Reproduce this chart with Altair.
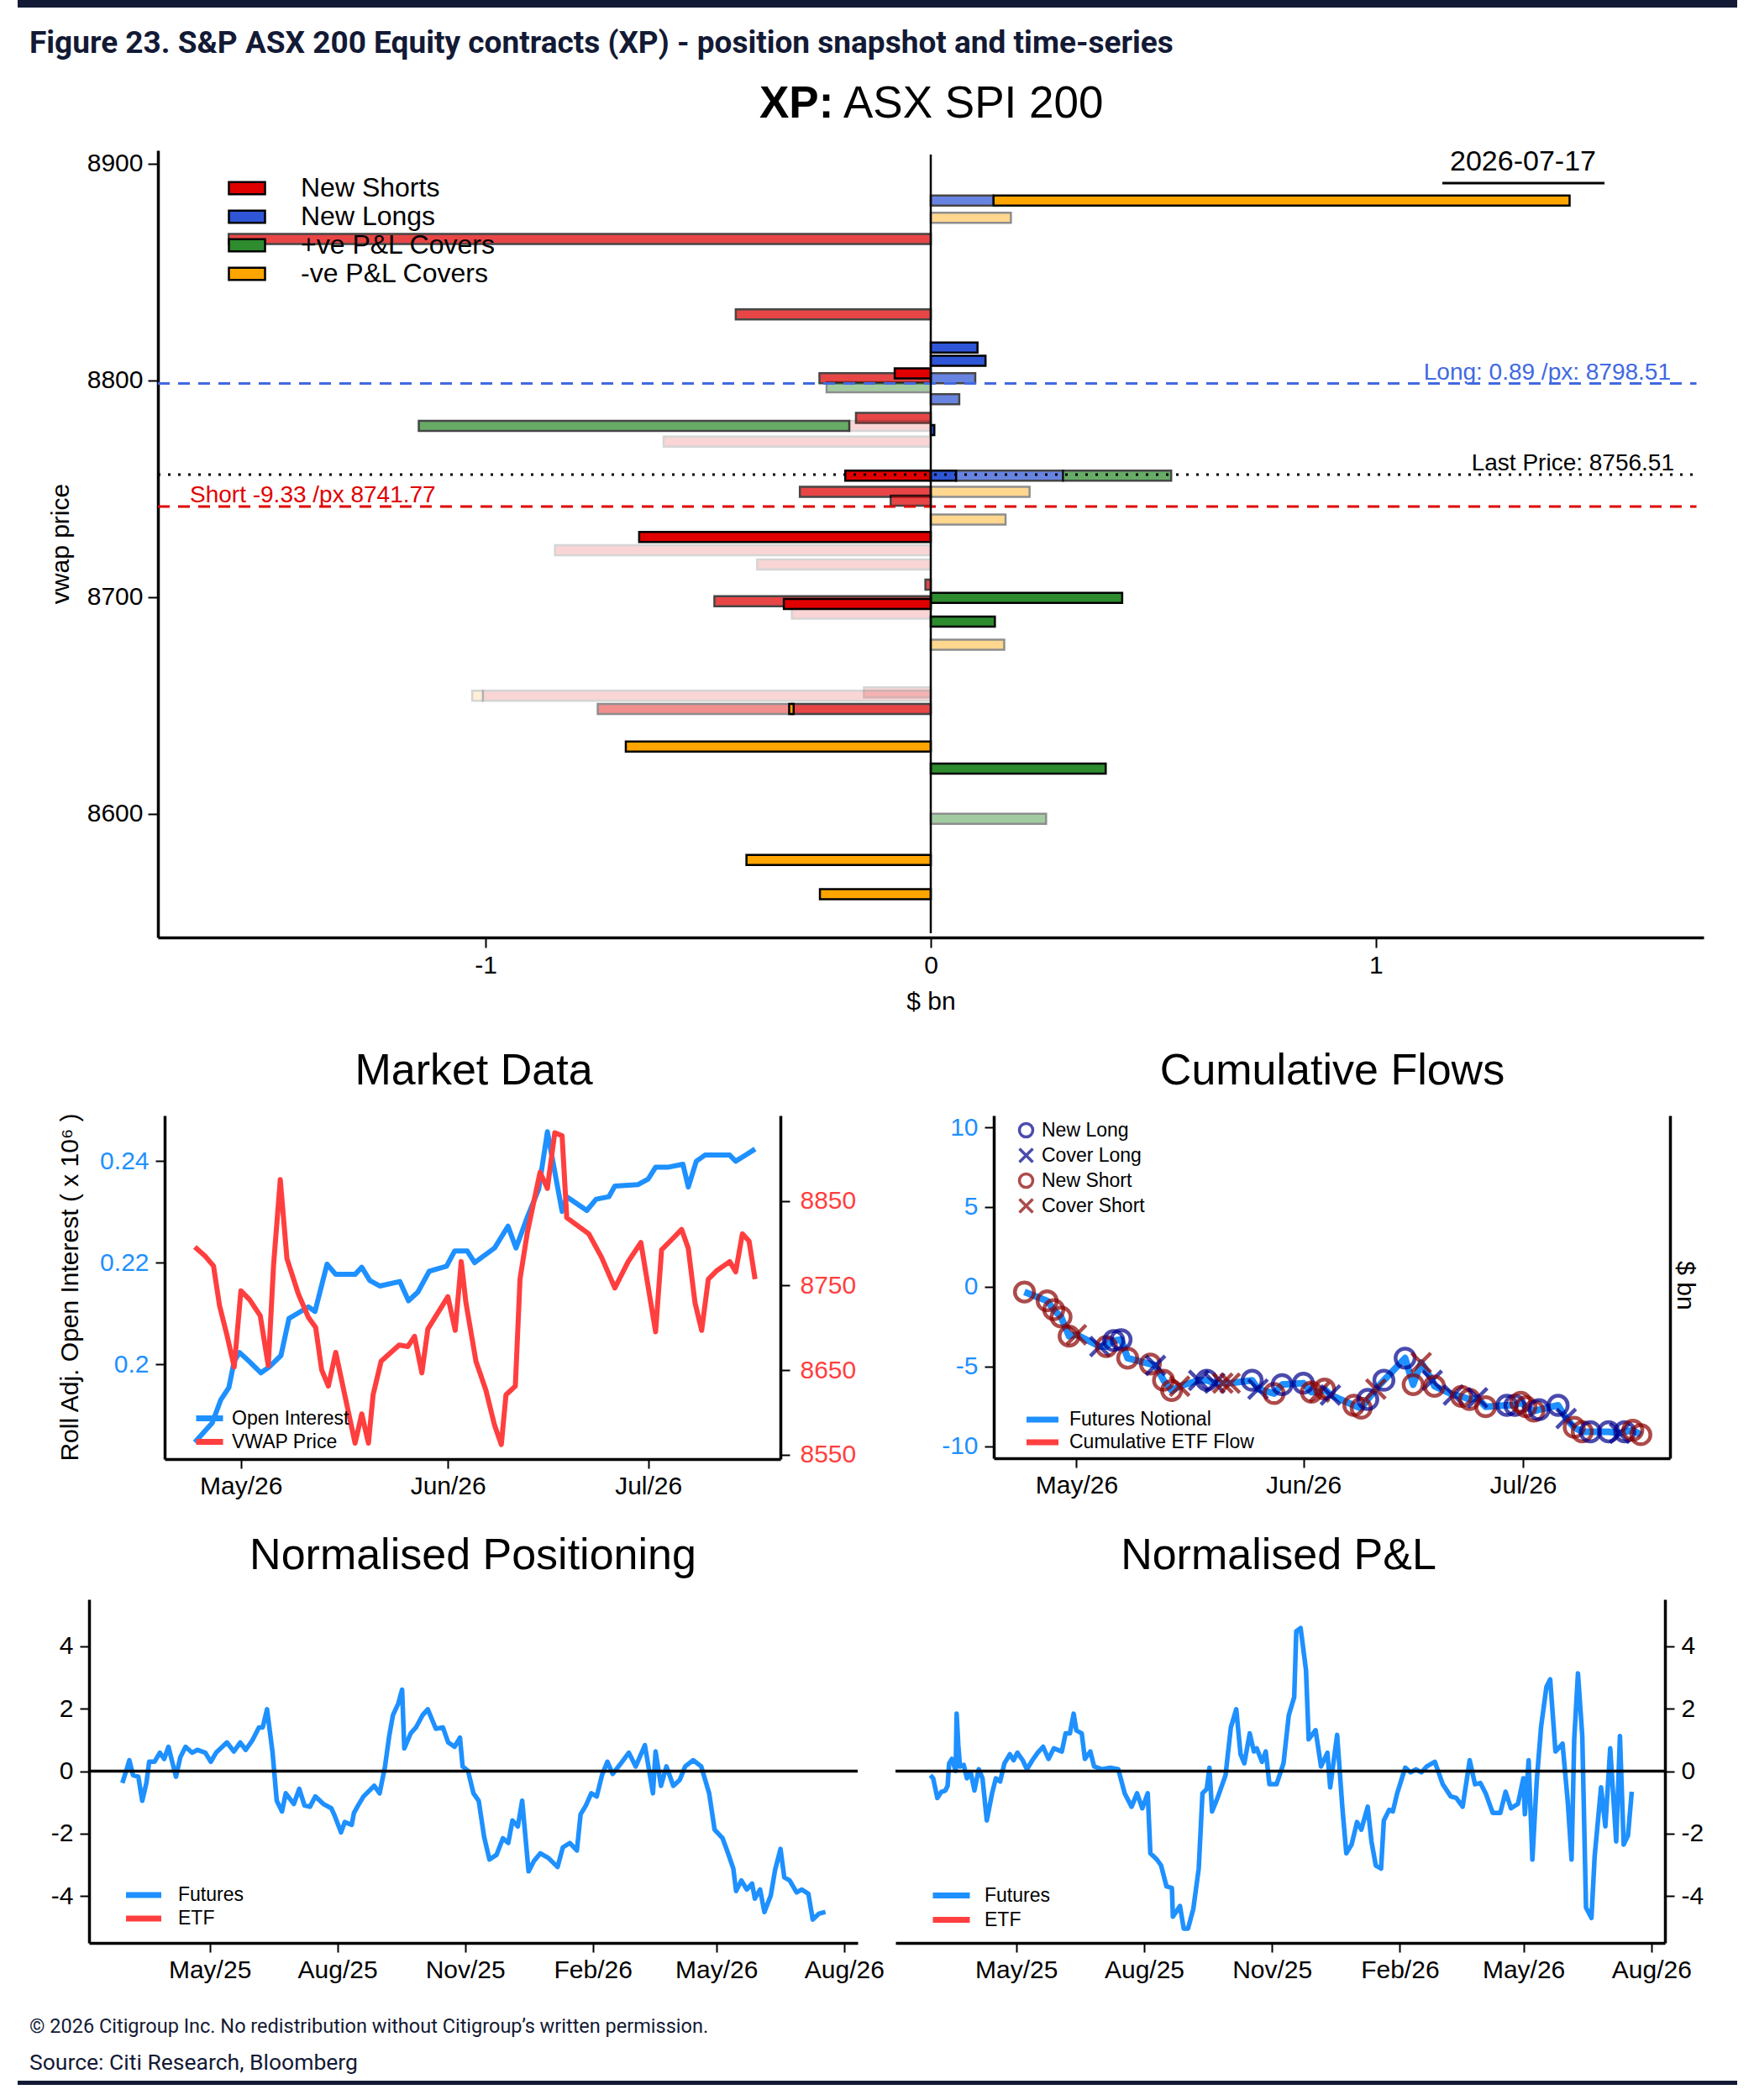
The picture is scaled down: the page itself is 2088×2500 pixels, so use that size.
import altair as alt
import pandas as pd

W, H = 2088, 2500
FONT = "Liberation Sans"
HEAD_FONT = "Roboto"
NAVY = "#131a35"
SKY = "#1e90ff"
SCARLET = "#ff3f3f"
LONG_BLUE = "#4169e1"
SHORT_RED = "#e00000"

# ---------------- header / footer
fig_title = "Figure 23. S&P ASX 200 Equity contracts (XP) - position snapshot and time-series"
copyright_note = "\u00a9 2026 Citigroup Inc. No redistribution without Citigroup\u2019s written permission."
source_note = "Source: Citi Research, Bloomberg"

# ---------------- snapshot panel
snap_date = "2026-07-17"
NS, NL, PC, NC = "New Shorts", "New Longs", "+ve P&L Covers", "-ve P&L Covers"
bar_types = [NS, NL, PC, NC]
bar_colors = ["#e00000", "#2f56d6", "#2e8b2e", "#ffa500"]
tones = ["solid", "medium", "light", "faded"]

bar_price = [8883.0, 8883.0, 8875.0, 8865.2, 8830.4, 8815.1, 8809.0, 8801.0, 8803.2, 8801.0,
             8796.8, 8791.3, 8782.7, 8779.0, 8779.0, 8777.0, 8771.7, 8756.0, 8756.0, 8756.0,
             8756.0, 8748.5, 8748.5, 8744.5, 8735.7, 8727.7, 8721.6, 8715.0, 8705.7, 8699.6,
             8698.0, 8696.8, 8692.3, 8688.6, 8678.0, 8656.0, 8654.4, 8654.4, 8648.3, 8648.3,
             8648.3, 8631.0, 8620.8, 8597.6, 8578.6, 8562.8]
bar_start = [0.0, 0.141, 0.0, -1.577, -0.438, 0.0, 0.0, -0.250, -0.081, 0.0,
             -0.234, 0.0, -0.168, -0.183, -1.150, 0.0, -0.600, -0.192, 0.0, 0.057,
             0.297, -0.294, 0.0, -0.090, 0.0, -0.655, -0.844, -0.390, -0.012, 0.0,
             -0.486, -0.330, -0.312, 0.0, 0.0, -0.150, -1.006, -1.030, -0.748, -0.312,
             -0.318, -0.685, 0.0, 0.0, -0.414, -0.249]
bar_end = [0.141, 1.435, 0.180, 0.0, 0.0, 0.105, 0.123, 0.0, 0.0, 0.100,
           0.0, 0.064, 0.0, 0.0, -0.183, 0.008, 0.0, 0.0, 0.057, 0.297,
           0.540, 0.0, 0.222, 0.0, 0.168, 0.0, 0.0, 0.0, 0.0, 0.430,
           0.0, 0.0, 0.0, 0.144, 0.165, 0.0, 0.0, -1.006, -0.312, 0.0,
           -0.308, 0.0, 0.393, 0.259, 0.0, 0.0]
bar_type = [NL, NC, NC, NS, NS, NL, NL, NS, NS, NL,
            PC, NL, NS, NS, PC, NL, NS, NS, NL, NL,
            PC, NS, NC, NS, NC, NS, NS, NS, NS, PC,
            NS, NS, NS, PC, NC, NS, NS, NC, NS, NS,
            NC, NC, PC, PC, NC, NC]
bar_tone = ["medium", "solid", "light", "medium", "medium", "solid", "solid", "medium", "solid", "medium",
            "light", "medium", "medium", "faded", "medium", "solid", "faded", "solid", "solid", "medium",
            "medium", "medium", "light", "medium", "light", "solid", "faded", "faded", "medium", "solid",
            "medium", "solid", "faded", "solid", "light", "faded", "faded", "faded", "light", "medium",
            "solid", "solid", "solid", "light", "solid", "solid"]

long_amt, long_px = 0.89, 8798.51
short_amt, short_px = -9.33, 8741.77
last_px = 8756.51

# ---------------- market data panel (days after 2026-05-01)
oi_day = [-6.9, -4.3, -3.0, -1.8, -1.0, -0.2, 1.2, 3.0, 4.2, 6.0,
          7.2, 8.6, 10.1, 11.1, 12.9, 14.2, 17.1, 18.1, 19.3, 20.8,
          23.8, 25.1, 26.5, 28.2, 30.8, 32.0, 33.9, 35.0, 38.0, 40.0,
          41.2, 42.9, 44.6, 45.9, 46.8, 48.1, 48.8, 51.8, 53.2, 55.1,
          56.0, 59.5, 61.0, 62.1, 63.9, 66.2, 67.0, 68.2, 69.5, 73.2,
          74.1, 75.7, 77.0]
oi_val = [0.1846, 0.1884, 0.1930, 0.1954, 0.2006, 0.2023, 0.2006, 0.1983, 0.1994, 0.2017,
          0.2090, 0.2101, 0.2113, 0.2104, 0.2197, 0.2177, 0.2177, 0.2191, 0.2165, 0.2154,
          0.2163, 0.2125, 0.2142, 0.2183, 0.2193, 0.2223, 0.2223, 0.2200, 0.2229, 0.2272,
          0.2229, 0.2290, 0.2345, 0.2458, 0.2394, 0.2301, 0.2330, 0.2303, 0.2325, 0.2330,
          0.2351, 0.2354, 0.2365, 0.2388, 0.2388, 0.2394, 0.2349, 0.2400, 0.2412, 0.2412,
          0.2400, 0.2413, 0.2424]
px_day = [-6.9, -5.4, -4.1, -3.2, -2.1, -1.0, 0.0, 1.3, 2.9, 4.1,
          4.9, 5.9, 6.9, 8.6, 10.1, 11.2, 12.1, 13.1, 14.2, 15.6,
          17.1, 18.1, 19.1, 19.8, 21.0, 23.7, 25.0, 26.0, 27.1, 28.0,
          31.0, 32.1, 33.0, 33.7, 35.2, 36.7, 38.0, 39.0, 39.7, 41.1,
          41.8, 42.9, 44.8, 45.9, 47.0, 48.1, 48.8, 50.3, 52.1, 54.0,
          56.0, 58.0, 59.9, 62.1, 63.0, 64.3, 66.0, 67.0, 68.0, 69.0,
          70.0, 71.3, 73.2, 74.1, 75.1, 76.1, 77.0]
px_val = [8795.7, 8785.3, 8773.2, 8726.5, 8691.9, 8653.8, 8743.8, 8733.4, 8714.4, 8655.5,
          8774.9, 8875.3, 8781.8, 8740.3, 8712.6, 8700.5, 8650.3, 8631.3, 8671.1, 8619.2,
          8563.8, 8598.4, 8563.8, 8620.9, 8660.7, 8679.8, 8678.0, 8690.1, 8646.9, 8698.8,
          8736.9, 8697.1, 8778.4, 8729.9, 8660.7, 8626.1, 8584.6, 8562.1, 8620.9, 8631.3,
          8757.6, 8813.0, 8883.9, 8864.9, 8930.6, 8927.2, 8830.3, 8821.6, 8811.2, 8783.6,
          8747.2, 8778.4, 8800.9, 8695.3, 8792.2, 8802.6, 8816.4, 8793.9, 8729.9, 8697.1,
          8757.6, 8767.9, 8778.4, 8766.3, 8811.2, 8802.6, 8757.6]

# ---------------- cumulative flows panel (days after 2026-05-01)
NLo, CLo, NSh, CSh = "New Long", "Cover Long", "New Short", "Cover Short"
flow_events = [NLo, CLo, NSh, CSh]
cf_day = [-7.1, -4.0, -3.1, -2.1, -1.0, 0.0, 3.2, 4.1, 5.1, 6.1,
          7.0, 10.1, 10.8, 11.9, 13.0, 14.1, 16.7, 17.8, 18.9, 20.0,
          21.0, 24.0, 24.8, 27.0, 28.1, 31.0, 32.1, 33.2, 33.9, 34.7,
          37.9, 38.9, 39.8, 40.9, 42.0, 44.9, 46.0, 47.1, 48.6, 48.9,
          51.5, 52.6, 53.7, 54.8, 55.9, 58.8, 59.9, 60.7, 61.4, 62.5,
          63.2, 65.8, 66.9, 68.0, 69.1, 70.2, 72.7, 74.2, 74.9, 76.0, 77.1]
cf_val = [-0.33, -0.89, -1.44, -1.90, -3.10, -3.01, -3.75, -3.75, -3.38, -3.32,
          -4.48, -4.85, -4.94, -5.87, -6.51, -6.24, -5.87, -5.87, -6.05, -6.05,
          -6.05, -5.87, -6.42, -6.70, -6.14, -6.05, -6.61, -6.61, -6.42, -6.79,
          -7.44, -7.62, -7.07, -6.42, -5.87, -4.48, -6.14, -4.76, -5.87, -6.24,
          -6.79, -6.88, -7.07, -6.97, -7.53, -7.44, -7.44, -7.25, -7.53, -7.80,
          -7.71, -7.44, -8.27, -8.82, -9.10, -9.10, -9.10, -9.19, -9.10, -9.00, -9.28]
cf_event = [NSh, NSh, NSh, NSh, NSh, CSh, CLo, NSh, NLo, NLo,
            NSh, NSh, CLo, NSh, NSh, CSh, CLo, NLo, CLo, CSh,
            CSh, NLo, CLo, NSh, NLo, NLo, NSh, CSh, NSh, CLo,
            NSh, NSh, NLo, CSh, NLo, NLo, NSh, CSh, CLo, NSh,
            CLo, NSh, NSh, CLo, NSh, NLo, NLo, NSh, NSh, NSh,
            NLo, NLo, CLo, NSh, NSh, NLo, NLo, CLo, NLo, NSh, NSh]

# ---------------- normalised positioning (days after 2025-05-01)
pos_day = [-62.9, -59.8, -57.9, -55.2, -51.4, -48.6, -45.6, -43.6, -39.8, -35.9,
           -32.8, -29.7, -27.0, -24.3, -21.2, -17.4, -12.7, -8.9, -3.1, 0.8,
           4.6, 12.4, 17.4, 22.0, 25.9, 30.5, 35.5, 38.2, 41.3, 45.2,
           48.3, 52.1, 54.8, 60.6, 64.5, 68.3, 72.2, 76.1, 81.9, 87.6,
           89.6, 94.6, 97.3, 102.3, 103.9, 106.9, 110.8, 118.5, 122.4, 126.3,
           129.3, 132.0, 135.9, 138.6, 140.2, 144.8, 148.6, 153.3, 157.1, 162.9,
           168.0, 171.8, 176.4, 180.3, 182.2, 186.1, 190.0, 193.8, 197.7, 201.5,
           206.6, 211.2, 215.1, 218.1, 222.0, 225.1, 229.7, 233.6, 238.2, 244.0,
           250.6, 254.4, 259.5, 264.5, 267.2, 271.0, 274.9, 278.8, 282.6, 286.5,
           290.3, 295.4, 301.9, 306.9, 313.5, 319.3, 321.2, 325.1, 329.0, 334.0,
           338.6, 342.5, 348.3, 354.1, 359.8, 363.7, 369.5, 373.4, 377.2, 379.2,
           383.0, 386.9, 390.7, 392.7, 396.5, 399.6, 404.2, 407.3, 411.2, 413.9,
           417.8, 422.8, 426.6, 431.3, 434.4, 439.0, 443.6]
pos_val = [-0.38, 0.06, 0.35, -0.13, -0.18, -0.95, -0.38, 0.30, 0.30, 0.59,
           0.39, 0.78, 0.30, -0.18, 0.44, 0.78, 0.59, 0.68, 0.59, 0.30,
           0.59, 0.92, 0.63, 0.92, 0.68, 0.97, 1.40, 1.40, 1.98, 0.63,
           -0.95, -1.29, -0.71, -1.05, -0.57, -1.10, -1.14, -0.81, -1.05, -1.19,
           -1.38, -1.96, -1.63, -1.72, -1.34, -1.10, -0.81, -0.47, -0.71, 0.15,
           1.12, 1.79, 2.17, 2.61, 0.73, 1.21, 1.40, 1.79, 1.98, 1.36,
           1.40, 0.92, 0.78, 1.07, 0.15, 0.01, -0.71, -0.95, -2.11, -2.83,
           -2.68, -2.15, -2.30, -1.58, -1.77, -0.95, -3.21, -2.88, -2.63, -2.78,
           -3.07, -2.44, -2.30, -2.54, -1.38, -1.10, -0.71, -0.81, -0.13, 0.30,
           -0.09, 0.20, 0.59, 0.15, 0.83, -0.71, 0.63, -0.47, 0.15, -0.47,
           -0.28, 0.15, 0.35, 0.15, -0.71, -1.87, -2.15, -2.63, -3.12, -3.84,
           -3.50, -3.79, -3.60, -4.08, -3.79, -4.51, -3.98, -3.16, -2.49, -3.40,
           -3.50, -3.88, -3.79, -3.93, -4.75, -4.56, -4.51]

# ---------------- normalised P&L (days after 2025-05-01)
pnl_day = [-61.8, -59.8, -56.8, -54.1, -51.0, -49.4, -48.3, -46.3, -43.6, -42.9,
           -41.7, -40.5, -37.8, -35.5, -32.8, -30.1, -27.0, -24.3, -21.2, -17.4,
           -14.7, -11.6, -8.5, -4.6, -1.9, 0.8, 4.6, 7.7, 11.6, 15.4,
           19.3, 23.2, 27.0, 32.8, 35.5, 38.6, 41.3, 43.2, 47.1, 49.4,
           53.3, 56.0, 61.8, 67.6, 73.4, 78.0, 83.0, 86.9, 90.7, 94.6,
           96.5, 101.2, 104.2, 108.1, 112.0, 112.7, 117.8, 120.5, 123.6, 127.4,
           131.3, 134.0, 137.1, 139.0, 140.9, 144.8, 150.6, 154.4, 158.3, 161.4,
           164.1, 168.0, 171.0, 173.0, 176.8, 179.5, 182.2, 187.3, 192.3, 196.1,
           200.0, 201.5, 204.6, 208.5, 210.4, 215.4, 219.3, 223.9, 225.9, 230.9,
           234.7, 237.5, 241.3, 245.2, 248.3, 252.9, 255.6, 258.7, 262.5, 264.5,
           268.3, 271.0, 274.1, 279.9, 283.8, 287.6, 291.5, 295.4, 301.2, 306.9,
           312.7, 316.6, 321.2, 326.3, 330.1, 334.0, 337.8, 342.9, 348.3, 352.1,
           356.0, 361.0, 364.9, 366.0, 368.7, 371.4, 374.5, 377.6, 381.5, 384.2,
           388.0, 393.1, 396.9, 399.6, 401.5, 404.2, 407.3, 410.0, 413.9, 416.2,
           420.8, 423.9, 427.4, 431.7, 434.4, 437.1, 440.2, 442.9]
pnl_val = [-0.13, -0.23, -0.86, -0.67, -0.62, -0.47, 0.25, 0.39, 0.01, 1.84,
           0.83, 0.15, 0.20, -0.23, -0.04, -0.62, 0.06, -0.23, -1.58, -0.71,
           -0.23, -0.33, 0.25, 0.54, 0.35, 0.59, 0.35, 0.06, 0.35, 0.59,
           0.78, 0.39, 0.73, 0.63, 1.21, 1.21, 1.84, 1.31, 1.21, 0.39,
           0.63, 0.15, 0.06, 0.11, 0.06, -0.71, -1.14, -0.71, -1.19, -0.71,
           -2.63, -2.83, -3.02, -3.69, -3.74, -4.66, -4.32, -5.04, -5.04, -4.41,
           -3.12, -0.71, -0.57, 0.11, -1.29, -0.86, -0.13, 1.40, 1.98, 0.54,
           0.25, 1.21, 0.63, 0.73, 0.30, 0.63, -0.42, -0.42, 0.25, 1.79,
           2.37, 4.48, 4.58, 3.23, 1.02, 1.31, 0.15, 0.59, -0.52, 1.16,
           -1.19, -2.63, -2.35, -1.63, -1.87, -1.14, -2.25, -3.02, -3.12, -1.58,
           -1.24, -1.29, -0.71, 0.11, -0.04, 0.06, -0.04, 0.15, 0.30, -0.42,
           -0.81, -0.86, -1.14, 0.35, -0.42, -0.38, -0.71, -1.34, -1.34, -0.66,
           -1.19, -1.05, -0.23, -1.38, 0.35, -2.83, -0.33, 1.40, 2.70, 2.94,
           0.63, 0.88, -1.00, -2.83, 1.02, 3.13, 1.12, -4.37, -4.70, -2.73,
           -0.52, -1.77, 0.73, -2.25, 1.12, -2.35, -2.06, -0.66]


# ---------------- helpers
def ax(orient, pos, **kw):
    offset = {"bottom": pos - H, "left": -pos, "right": pos - W}[orient]
    props = dict(orient=orient, offset=offset, grid=False, domainColor="black", domainWidth=3.5,
                 tickColor="black", tickWidth=2, tickSize=11, labelColor="black", labelFont=FONT,
                 labelFontSize=30, labelPadding=6, labelFlush=False, labelOverlap=False,
                 titleFont=FONT, titleFontSize=30, titleFontWeight="normal", titleColor="black")
    props.update(kw)
    return alt.Axis(**props)


MINUS = "datum.value < 0 ? '-' + format(-datum.value, '~g') : format(datum.value, '~g')"


def dt(y, m, d, h=0):
    return alt.DateTime(year=y, month=m, date=d, hours=h)


def to_dates(base, days):
    return pd.Timestamp(base) + pd.to_timedelta(pd.Series(days), unit="D")


ONE = pd.DataFrame({"k": [0]})


def label(text, x, y, size, color="black", weight="normal", align="left", font=FONT):
    return alt.Chart(pd.DataFrame({"t": [text]})).mark_text(
        align=align, baseline="middle", fontSize=size, font=font, fontWeight=weight,
        color=color).encode(text="t:N", x=alt.value(x), y=alt.value(y))


def band(x1, x2, y1, y2, color):
    return alt.Chart(ONE).mark_rect(color=color).encode(
        x=alt.value(x1), x2=alt.value(x2), y=alt.value(y1), y2=alt.value(y2))


def line_legend(x, y, size, offset, rows_pad=-1):
    return alt.Legend(orient="none", legendX=x, legendY=y, title=None, symbolType="M-2,0H2",
                      symbolSize=size, symbolStrokeWidth=7, labelFont=FONT, labelFontSize=23,
                      labelOffset=offset, rowPadding=rows_pad, padding=0, labelLimit=0)


# ---------------- snapshot layers
sx = alt.Scale(domain=[-1.736, 1.736], range=[188, 2028], nice=False, zero=False)
sy = alt.Scale(domain=[8544.8, 8904.2], range=[1116, 179], nice=False, zero=False)
SX_AX = ax("bottom", 1116, values=[-1, 0, 1], labelExpr=MINUS, title="$ bn", titleX=1108, titleY=76,
           titleBaseline="middle", tickSize=12)
SY_AX = ax("left", 188, values=[8600, 8700, 8800, 8900], labelExpr=MINUS, title="vwap price",
           titleX=-116, titleY=647, titleAngle=-90, titleBaseline="middle", tickSize=12)

bars_df = pd.DataFrame({"price": bar_price, "start": bar_start, "end": bar_end,
                        "type": bar_type, "tone": bar_tone})
bars = alt.Chart(bars_df).mark_bar(size=12, stroke="black", strokeWidth=2.5, orient="horizontal").encode(
    x=alt.X("start:Q", scale=sx, axis=SX_AX),
    x2="end:Q",
    y=alt.Y("price:Q", scale=sy, axis=SY_AX),
    color=alt.Color("type:N", scale=alt.Scale(domain=bar_types, range=bar_colors),
                    legend=alt.Legend(orient="none", legendX=278, legendY=208, title=None,
                                      symbolType="M-1.5,-0.5H1.5V0.5H-1.5Z", symbolSize=823,
                                      symbolStrokeColor="black", symbolStrokeWidth=2.5, symbolOpacity=1,
                                      labelFont=FONT, labelFontSize=32, labelOffset=48, rowPadding=2,
                                      padding=0, labelLimit=0)),
    opacity=alt.Opacity("tone:N", scale=alt.Scale(type="point", domain=tones, range=[1.0, 0.16], padding=0),
                        legend=None),
)


def ref_rule(price, color, dash, x_end):
    return alt.Chart(ONE).mark_rule(color=color, strokeWidth=3, strokeDash=dash).encode(
        x=alt.XDatum(-1.736, scale=sx, axis=SX_AX), x2=alt.X2Datum(x_end),
        y=alt.YDatum(price, scale=sy, axis=SY_AX))


def ref_text(text, price, x, color, align):
    return alt.Chart(pd.DataFrame({"t": [text]})).mark_text(
        align=align, baseline="alphabetic", dy=-5, fontSize=28, font=FONT, color=color).encode(
        text="t:N", x=alt.value(x), y=alt.YDatum(price, scale=sy, axis=SY_AX))


zero_rule = alt.Chart(ONE).mark_rule(color="black", strokeWidth=2.5).encode(
    x=alt.XDatum(0, scale=sx, axis=SX_AX),
    y=alt.YDatum(8544.8, scale=sy, axis=SY_AX), y2=alt.Y2Datum(8904.2))

snapshot = alt.layer(
    bars,
    ref_rule(long_px, LONG_BLUE, [14, 10], 1.72),
    ref_rule(short_px, SHORT_RED, [14, 10], 1.72),
    ref_rule(last_px, "black", [3, 9], 1.72),
    zero_rule,
    ref_text(f"Long: {long_amt} /px: {long_px}", long_px, 1989, LONG_BLUE, "right"),
    ref_text(f"Short {short_amt} /px {short_px}", short_px, 226, SHORT_RED, "left"),
    ref_text(f"Last Price: {last_px}", last_px, 1993, "black", "right"),
)

# ---------------- market data layers
month_ticks = [dt(2026, 5, 1), dt(2026, 6, 1), dt(2026, 7, 1)]
mdx = alt.Scale(type="time", domain=[dt(2026, 4, 19, 14), dt(2026, 7, 20, 19)], range=[196, 929])
oi_y = alt.Scale(domain=[0.1813, 0.249], range=[1737, 1328], nice=False, zero=False)
px_y = alt.Scale(domain=[8545, 8951], range=[1737, 1328], nice=False, zero=False)
md_color = alt.Scale(domain=["Open Interest", "VWAP Price"], range=[SKY, SCARLET])
md_leg = line_legend(238, 1677, 256, 15)
MD_X_AX = ax("bottom", 1737, values=month_ticks, format="%b/%y", title=None)

oi_df = pd.DataFrame({"date": to_dates("2026-05-01", oi_day), "v": oi_val, "s": "Open Interest"})
px_df = pd.DataFrame({"date": to_dates("2026-05-01", px_day), "v": px_val, "s": "VWAP Price"})
oi_line = alt.Chart(oi_df).mark_line(strokeWidth=6, strokeJoin="round").encode(
    x=alt.X("date:T", scale=mdx, axis=MD_X_AX),
    y=alt.Y("v:Q", scale=oi_y, axis=ax("left", 196, values=[0.2, 0.22, 0.24], labelExpr=MINUS,
                                       labelColor=SKY, labelPadding=8,
                                       title="Roll Adj. Open Interest ( x 10\u2076 )", titleX=-113,
                                       titleY=1532, titleAngle=-90, titleBaseline="middle")),
    color=alt.Color("s:N", scale=md_color, legend=md_leg))
px_line = alt.Chart(px_df).mark_line(strokeWidth=6, strokeJoin="round").encode(
    x=alt.X("date:T", scale=mdx, axis=MD_X_AX),
    y=alt.Y("v:Q", scale=px_y, axis=ax("right", 929, values=[8550, 8650, 8750, 8850], labelExpr=MINUS,
                                       labelColor=SCARLET, labelPadding=12, title=None)),
    color=alt.Color("s:N", scale=md_color, legend=md_leg))
market = alt.layer(oi_line, px_line).resolve_scale(y="independent")

# ---------------- cumulative flows layers
cfx = alt.Scale(type="time", domain=[dt(2026, 4, 19, 17), dt(2026, 7, 21, 2)], range=[1183, 1988])
cfy = alt.Scale(domain=[-10.76, 10.74], range=[1736, 1328], nice=False, zero=False)
CF_X_AX = ax("bottom", 1736, values=month_ticks, format="%b/%y", title=None)
XPATH = "M-1,-1L1,1M-1,1L1,-1"
cf_df = pd.DataFrame({"date": to_dates("2026-05-01", cf_day), "v": cf_val, "event": cf_event,
                      "s": "Futures Notional"})
ev_leg = alt.Legend(orient="none", legendX=1210, legendY=1334, title=None, symbolSize=256,
                    symbolStrokeWidth=3.5, labelFont=FONT, labelFontSize=23, labelOffset=7,
                    rowPadding=-1, padding=0, labelLimit=0)
cf_line = alt.Chart(cf_df).mark_line(strokeWidth=8, strokeJoin="round").encode(
    x=alt.X("date:T", scale=cfx, axis=CF_X_AX),
    y=alt.Y("v:Q", scale=cfy, axis=ax("left", 1183, values=[-10, -5, 0, 5, 10], labelExpr=MINUS,
                                      labelColor=SKY, labelPadding=8, title=None)),
    stroke=alt.Stroke("s:N", scale=alt.Scale(domain=["Futures Notional", "Cumulative ETF Flow"],
                                             range=[SKY, SCARLET]),
                      legend=line_legend(1228, 1677, 361, 19)))
cf_pts = alt.Chart(cf_df).mark_point(filled=False, size=520, strokeWidth=4.5).encode(
    x=alt.X("date:T", scale=cfx, axis=CF_X_AX),
    y=alt.Y("v:Q", scale=cfy, axis=None),
    color=alt.Color("event:N", scale=alt.Scale(domain=flow_events,
                                               range=["#00008b", "#00008b", "#8b0000", "#8b0000"]),
                    legend=ev_leg),
    shape=alt.Shape("event:N", scale=alt.Scale(domain=flow_events, range=["circle", XPATH, "circle", XPATH]),
                    legend=ev_leg))
cf_right = alt.Chart(ONE).mark_point(opacity=0).encode(
    y=alt.YDatum(0, scale=cfy, axis=ax("right", 1988, labels=False, ticks=False, title="$ bn",
                                        titleX=17, titleY=1530, titleAngle=90, titleBaseline="middle")))
flows = alt.layer(cf_line, cf_pts, cf_right).resolve_axis(y="independent")

# ---------------- normalised positioning / P&L
long_ticks = [dt(2025, 5, 1), dt(2025, 8, 1), dt(2025, 11, 1), dt(2026, 2, 1), dt(2026, 5, 1), dt(2026, 8, 1)]
norm_y = alt.Scale(domain=[-5.5, 5.5], range=[2313, 1904], nice=False, zero=False)
norm_color = alt.Scale(domain=["Futures", "ETF"], range=[SKY, SCARLET])


def norm_panel(days, vals, x0, x1, y_orient, y_pos, leg_x, leg_size, leg_off):
    nx = alt.Scale(type="time", domain=[dt(2025, 2, 3, 2), dt(2026, 8, 10, 19)], range=[x0, x1])
    x_ax = ax("bottom", 2313, values=long_ticks, format="%b/%y", title=None)
    y_ax = ax(y_orient, y_pos, values=[-4, -2, 0, 2, 4], labelExpr=MINUS, labelPadding=8, title=None)
    df = pd.DataFrame({"date": to_dates("2025-05-01", days), "v": vals, "s": "Futures"})
    ln = alt.Chart(df).mark_line(strokeWidth=5.5, strokeJoin="round").encode(
        x=alt.X("date:T", scale=nx, axis=x_ax),
        y=alt.Y("v:Q", scale=norm_y, axis=y_ax),
        color=alt.Color("s:N", scale=norm_color, legend=line_legend(leg_x, 2242, leg_size, leg_off)))
    zero = alt.Chart(ONE).mark_rule(color="black", strokeWidth=3.5).encode(
        x=alt.XDatum(dt(2025, 2, 3, 2), type="temporal", scale=nx, axis=x_ax),
        x2=alt.X2Datum(dt(2026, 8, 10, 19)),
        y=alt.YDatum(0, scale=norm_y, axis=y_ax))
    return alt.layer(ln, zero)


positioning = norm_panel(pos_day, pos_val, 106, 1021, "left", 106, 157, 441, 27)
pnl = norm_panel(pnl_day, pnl_val, 1066, 1982, "right", 1982, 1118, 484, 25)

# ---------------- decorations
deco = [
    band(21, 2068, 0, 9, NAVY),
    band(21, 2068, 2477, 2482, NAVY),
    label(fig_title, 35, 52, 37, color=NAVY, weight="bold", font=HEAD_FONT),
    label("XP:", 904, 124, 53, weight="bold"),
    label("ASX SPI 200", 1004, 124, 53),
    label(snap_date, 1813, 193, 34, align="center"),
    alt.Chart(ONE).mark_rule(color="black", strokeWidth=3).encode(
        x=alt.value(1717), x2=alt.value(1910), y=alt.value(218)),
    label("Market Data", 564, 1275, 52, align="center"),
    label("Cumulative Flows", 1586, 1275, 52, align="center"),
    label("Normalised Positioning", 563, 1852, 52, align="center"),
    label("Normalised P&L", 1522, 1852, 52, align="center"),
    label(copyright_note, 35, 2413, 23.5, color=NAVY, font=HEAD_FONT),
    label(source_note, 35, 2456, 26.5, color=NAVY, font=HEAD_FONT),
]

chart = alt.layer(snapshot, market, flows, positioning, pnl, *deco).resolve_scale(
    x="independent", y="independent", color="independent", opacity="independent",
    shape="independent", stroke="independent"
).resolve_axis(x="independent", y="independent").resolve_legend(
    color="independent", shape="independent", stroke="independent"
).properties(
    width=W, height=H, autosize=alt.AutoSizeParams(type="none"), padding=0, background="white"
).configure_view(stroke=None)

chart.save("out.html", embed_options={"renderer": "svg", "actions": False})
